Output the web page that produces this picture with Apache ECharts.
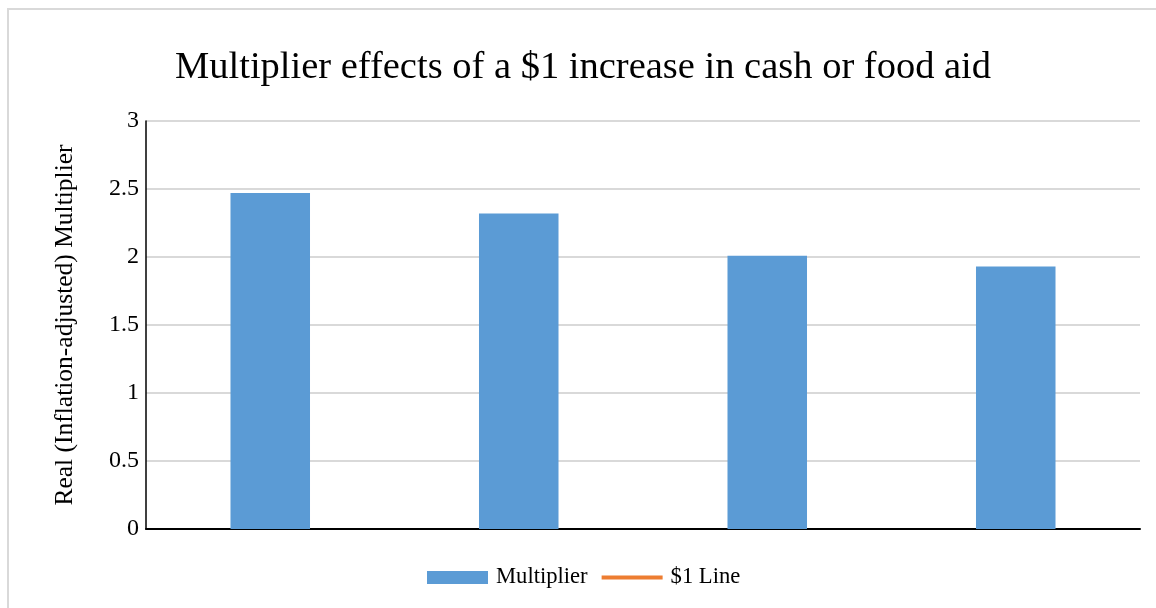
<!DOCTYPE html>
<html>
<head>
<meta charset="utf-8">
<script src="https://cdn.jsdelivr.net/npm/echarts@6/dist/echarts.min.js"></script>
<style>
  html, body { margin: 0; padding: 0; background: #fff; overflow: hidden; }
  #chart { width: 1156px; height: 608px; }
</style>
</head>
<body>
<div id="chart"></div>
<script>
// Four aid scenarios (unlabelled on the axis)
const categories = ['A', 'B', 'C', 'D'];
// Real multiplier for each scenario
const multiplier = [2.47, 2.32, 2.01, 1.93];
// Reference series listed in the legend; no points plotted
const dollarLine = [null, null, null, null];
const yTicks = { min: 0, max: 3, interval: 0.5 };

const serif = '"Liberation Serif", "Times New Roman", serif';
const chart = echarts.init(document.getElementById('chart'));

chart.setOption({
  animation: false,
  backgroundColor: '#fff',
  graphic: [{
    type: 'rect',
    shape: { x: 8, y: 9, width: 1200, height: 700 },
    style: { fill: 'none', stroke: '#d9d9d9', lineWidth: 2 },
    silent: true
  }],
  title: {
    text: 'Multiplier effects of a $1 increase in cash or food aid',
    left: 170,
    top: 43,
    textStyle: { fontFamily: serif, fontSize: 38.5, fontWeight: 'normal', color: '#000' }
  },
  legend: {
    bottom: 14,
    left: 422,
    itemGap: 14,
    itemWidth: 61,
    itemHeight: 13,
    textStyle: { fontFamily: serif, fontSize: 22.6, color: '#000', padding: [0, 0, 0, 3] },
    data: [
      { name: 'Multiplier', icon: 'rect' },
      { name: '$1 Line', icon: 'path://M0,0 L60,0 L60,4 L0,4 Z', itemStyle: { color: '#ed7d31' } }
    ]
  },
  grid: { left: 146, right: 16, top: 121, bottom: 79 },
  xAxis: {
    type: 'category',
    data: categories,
    axisLine: { lineStyle: { color: '#000', width: 2 } },
    axisTick: { show: false },
    axisLabel: { show: false }
  },
  yAxis: {
    type: 'value',
    min: yTicks.min,
    max: yTicks.max,
    interval: yTicks.interval,
    name: 'Real (Inflation-adjusted) Multiplier',
    nameLocation: 'middle',
    nameGap: 68,
    nameTextStyle: { fontFamily: serif, fontSize: 25.5, color: '#000' },
    axisLine: { show: true, lineStyle: { color: '#000', width: 1.5 } },
    axisTick: { show: false },
    axisLabel: { fontFamily: serif, fontSize: 24, color: '#000', margin: 7 },
    splitLine: { lineStyle: { color: '#d9d9d9', width: 2 } }
  },
  series: [
    {
      name: 'Multiplier',
      type: 'bar',
      data: multiplier,
      barWidth: '32%',
      itemStyle: { color: '#5b9bd5' }
    },
    {
      name: '$1 Line',
      type: 'line',
      data: dollarLine,
      symbol: 'none',
      lineStyle: { color: '#ed7d31', width: 3 },
      itemStyle: { color: '#ed7d31' }
    }
  ]
});
</script>
</body>
</html>
